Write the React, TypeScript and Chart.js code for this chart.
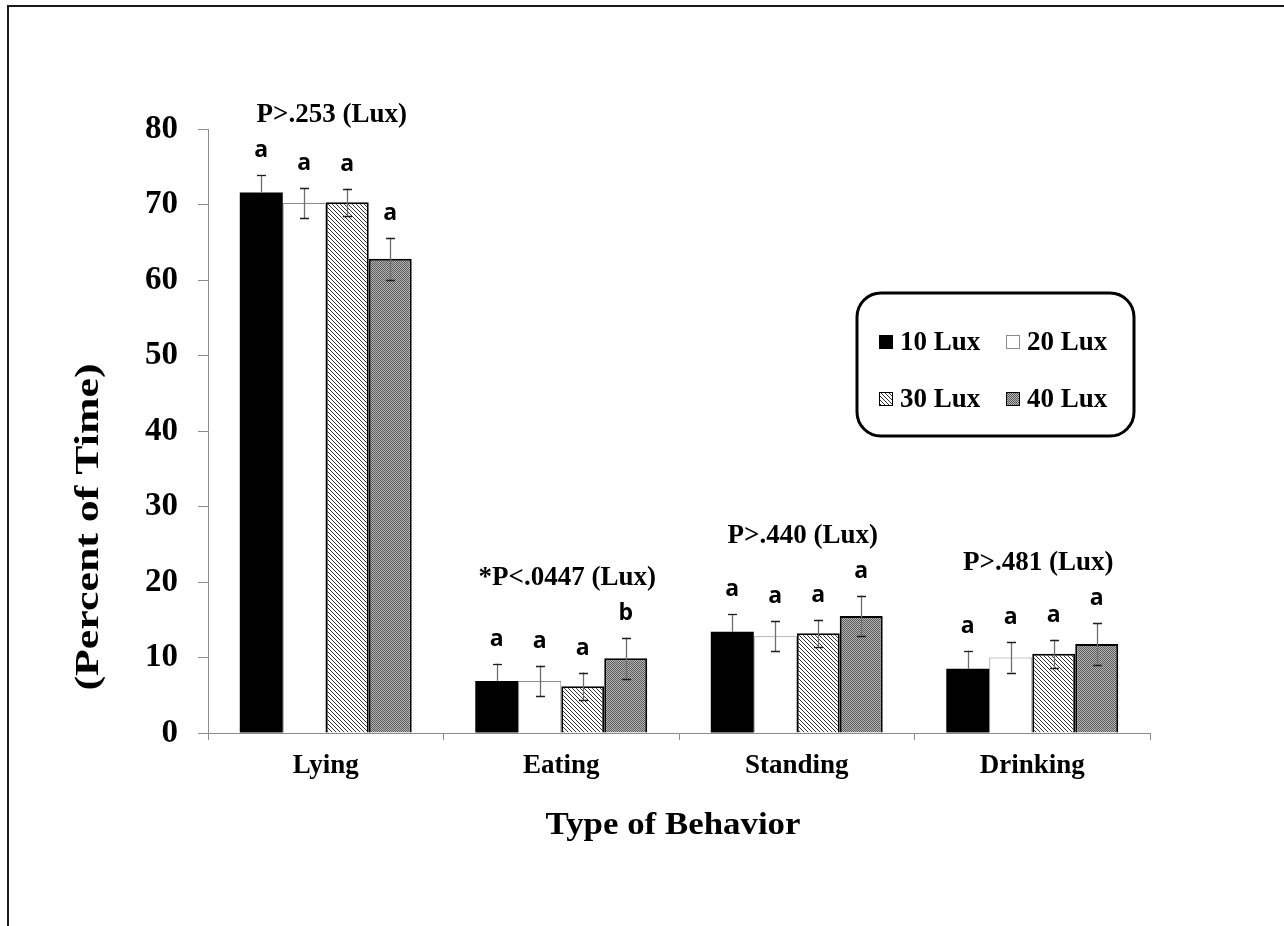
import React, { useEffect, useRef } from 'react';
import { Chart, registerables } from 'chart.js';

Chart.register(...registerables);

// ---------- data ----------
const categories = ['Lying', 'Eating', 'Standing', 'Drinking'];
const seriesLabels = ['10 Lux', '20 Lux', '30 Lux', '40 Lux'];

const lux10 = [71.6, 6.9, 13.4, 8.5];
const lux20 = [70.2, 6.9, 12.8, 10.0];
const lux30 = [70.3, 6.2, 13.2, 10.5];
const lux40 = [62.8, 9.9, 15.5, 11.8];

const err10 = [2.3, 2.3, 2.3, 2.4];
const err20 = [2.0, 2.0, 2.0, 2.0];
const err30 = [1.8, 1.8, 1.8, 1.85];
const err40 = [2.8, 2.7, 2.7, 2.75];

const letters10 = ['a', 'a', 'a', 'a'];
const letters20 = ['a', 'a', 'a', 'a'];
const letters30 = ['a', 'a', 'a', 'a'];
const letters40 = ['a', 'b', 'a', 'a'];

const groupTitles = ['P>.253 (Lux)', '*P<.0447 (Lux)', 'P>.440 (Lux)', 'P>.481 (Lux)'];

const yMin = 0;
const yMax = 80;
const yStep = 10;

const xTitle = 'Type of Behavior';
const yTitle = '(Percent of Time)';

const errorsBySeries = [err10, err20, err30, err40];
const lettersBySeries = [letters10, letters20, letters30, letters40];

const SERIF = "'Liberation Serif', 'Times New Roman', serif";
const SANS = "'Open Sans', 'Liberation Sans', Arial, sans-serif";

function makeHatch(): CanvasPattern | string {
  const c = document.createElement('canvas');
  c.width = 4;
  c.height = 4;
  const g = c.getContext('2d');
  if (!g) return '#ccc';
  g.fillStyle = '#ffffff';
  g.fillRect(0, 0, 4, 4);
  g.fillStyle = '#333333';
  for (let i = 0; i < 4; i++) g.fillRect(i, i, 1, 1);
  return g.createPattern(c, 'repeat') || '#ccc';
}

function makeGrey(): CanvasPattern | string {
  const c = document.createElement('canvas');
  c.width = 2;
  c.height = 2;
  const g = c.getContext('2d');
  if (!g) return '#888';
  g.fillStyle = '#b4b4b4';
  g.fillRect(0, 0, 2, 2);
  g.fillStyle = '#5c5c5c';
  g.fillRect(0, 0, 1, 1);
  g.fillRect(1, 1, 1, 1);
  return g.createPattern(c, 'repeat') || '#888';
}

function drawStretched(ctx: CanvasRenderingContext2D, text: string, x: number, y: number, targetLen: number, rot: number) {
  ctx.save();
  ctx.translate(x, y);
  ctx.rotate(rot);
  const w = ctx.measureText(text).width;
  ctx.scale(targetLen / w, 1);
  ctx.textAlign = 'center';
  ctx.fillText(text, 0, 0);
  ctx.restore();
}

const annotPlugin = {
  id: 'annot',
  beforeDraw(chart: any) {
    const ctx: CanvasRenderingContext2D = chart.ctx;
    ctx.save();
    ctx.fillStyle = '#ffffff';
    ctx.fillRect(0, 0, chart.width, chart.height);
    ctx.fillStyle = '#1a1a1a';
    ctx.fillRect(7, 5, chart.width - 7, 2);
    ctx.fillRect(7, 5, 2, chart.height - 5);
    ctx.restore();
  },
  afterDatasetsDraw(chart: any) {
    const ctx: CanvasRenderingContext2D = chart.ctx;
    const ys = chart.scales.y;
    const xs = chart.scales.x;
    const area = chart.chartArea;
    ctx.save();

    // error bars and letters
    chart.data.datasets.forEach((ds: any, di: number) => {
      const meta = chart.getDatasetMeta(di);
      meta.data.forEach((bar: any, i: number) => {
        const v = ds.data[i];
        const e = errorsBySeries[di][i];
        const x = Math.round(bar.x) + 0.5;
        const yTop = ys.getPixelForValue(v + e);
        const yMid = ys.getPixelForValue(v);
        const yBot = ys.getPixelForValue(v - e);
        const solidFill = ds.backgroundColor === '#000000';
        ctx.lineWidth = 1.3;
        ctx.strokeStyle = '#6e6e6e';
        ctx.beginPath();
        ctx.moveTo(x, yMid);
        ctx.lineTo(x, yTop);
        if (!solidFill) {
          ctx.moveTo(x, yMid);
          ctx.lineTo(x, yBot);
        }
        ctx.stroke();
        ctx.strokeStyle = '#1e1e1e';
        ctx.beginPath();
        ctx.moveTo(x - 4.5, Math.round(yTop) + 0.5);
        ctx.lineTo(x + 4.5, Math.round(yTop) + 0.5);
        if (!solidFill) {
          ctx.moveTo(x - 4.5, Math.round(yBot) + 0.5);
          ctx.lineTo(x + 4.5, Math.round(yBot) + 0.5);
        }
        ctx.stroke();

        ctx.fillStyle = '#000';
        ctx.font = `bold 23px ${SANS}`;
        ctx.textAlign = 'center';
        ctx.textBaseline = 'alphabetic';
        ctx.fillText(lettersBySeries[di][i], bar.x, yTop - 18);
      });
    });

    // group titles
    ctx.font = `bold 27px ${SERIF}`;
    ctx.fillStyle = '#000';
    ctx.textAlign = 'center';
    ctx.textBaseline = 'alphabetic';
    chart.data.labels.forEach((_: any, i: number) => {
      let top = -Infinity;
      chart.data.datasets.forEach((ds: any, di: number) => {
        top = Math.max(top, ds.data[i] + errorsBySeries[di][i]);
      });
      const cx = xs.getPixelForValue(i) + 6;
      ctx.fillText(groupTitles[i], cx, ys.getPixelForValue(top) - 53);
    });

    // axis titles
    ctx.font = `bold 31px ${SERIF}`;
    ctx.textBaseline = 'alphabetic';
    drawStretched(ctx, xTitle, (area.left + area.right) / 2 - 6, 834, 255, 0);
    ctx.font = `bold 34px ${SERIF}`;
    ctx.textBaseline = 'middle';
    drawStretched(ctx, yTitle, 89, 527, 327, -Math.PI / 2);

    // legend
    const bx = 857, by = 293, bw = 277, bh = 143, r = 24;
    ctx.beginPath();
    ctx.moveTo(bx + r, by);
    ctx.arcTo(bx + bw, by, bx + bw, by + bh, r);
    ctx.arcTo(bx + bw, by + bh, bx, by + bh, r);
    ctx.arcTo(bx, by + bh, bx, by, r);
    ctx.arcTo(bx, by, bx + bw, by, r);
    ctx.closePath();
    ctx.fillStyle = '#fff';
    ctx.fill();
    ctx.lineWidth = 3;
    ctx.strokeStyle = '#000';
    ctx.stroke();

    const cols = [879, 1006];
    const rows = [350, 407];
    ctx.font = `bold 27px ${SERIF}`;
    ctx.textAlign = 'left';
    ctx.textBaseline = 'alphabetic';
    chart.data.datasets.forEach((ds: any, di: number) => {
      const cx = cols[di % 2];
      const cy = rows[Math.floor(di / 2)];
      const sx = cx, sy = cy - 15, s = 14;
      ctx.fillStyle = ds.backgroundColor;
      ctx.fillRect(sx, sy, s, s);
      if (ds.borderWidth > 0) {
        ctx.lineWidth = 1;
        ctx.strokeStyle = ds.borderColor;
        ctx.strokeRect(sx + 0.5, sy + 0.5, s - 1, s - 1);
      }
      ctx.fillStyle = '#000';
      ctx.fillText(ds.label, cx + 21, cy);
    });

    ctx.restore();
  },
};

export default function App() {
  const ref = useRef<HTMLCanvasElement | null>(null);

  useEffect(() => {
    if (!ref.current) return;
    const hatch = makeHatch();
    const grey = makeGrey();
    const seriesData = [lux10, lux20, lux30, lux40];
    const fills: any[] = ['#000000', '#ffffff', hatch, grey];
    const borders = ['#000000', '#8c8c8c', '#000000', '#000000'];
    const widths = [0, 1, 2, 2];

    const chart = new Chart(ref.current, {
      type: 'bar',
      data: {
        labels: categories,
        datasets: seriesData.map((d, i) => ({
          label: seriesLabels[i],
          data: d,
          backgroundColor: fills[i],
          borderColor: borders[i],
          borderWidth: widths[i],
          categoryPercentage: 0.73,
          barPercentage: 1.0,
        })),
      },
      options: {
        responsive: false,
        animation: false,
        devicePixelRatio: 1,
        layout: { padding: { left: 0, top: 129, right: 134, bottom: 0 } },
        plugins: {
          legend: { display: false },
          title: { display: false },
          tooltip: { enabled: false },
        },
        scales: {
          x: {
            ticks: {
              font: { family: SERIF, size: 27, weight: 'bold' },
              color: '#000',
              padding: 10,
            },
            grid: {
              drawOnChartArea: false,
              tickLength: 7,
              color: '#8c8c8c',
              offset: true,
            },
            border: { color: '#8c8c8c', width: 1 },
            afterFit(s: any) {
              s.height = 193;
            },
          },
          y: {
            min: yMin,
            max: yMax,
            ticks: {
              stepSize: yStep,
              font: { family: SERIF, size: 33, weight: 'bold' },
              color: '#000',
              padding: 20,
            },
            grid: {
              drawOnChartArea: false,
              tickLength: 10,
              color: '#8c8c8c',
            },
            border: { color: '#8c8c8c', width: 1 },
            afterFit(s: any) {
              s.width = 208;
            },
          },
        },
      },
      plugins: [annotPlugin],
    } as any);

    return () => chart.destroy();
  }, []);

  return (
    <div style={{ position: 'fixed', left: 0, top: 0, width: 1284, height: 926, background: '#fff' }}>
      <canvas ref={ref} width={1284} height={926} style={{ display: 'block', width: 1284, height: 926 }} />
    </div>
  );
}
